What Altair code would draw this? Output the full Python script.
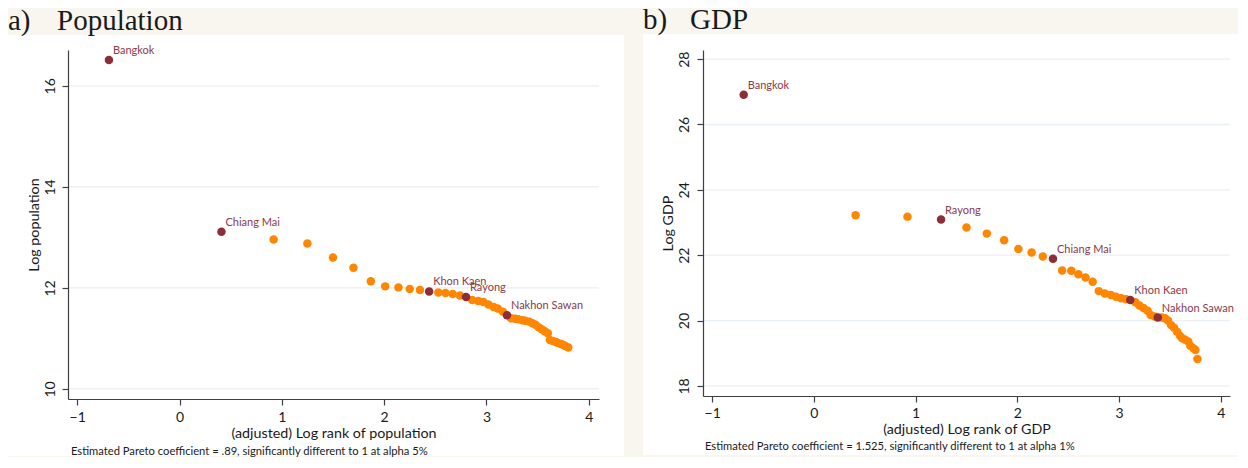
import altair as alt
import pandas as pd

# ---------------- data ----------------
# Panel a: population
pop_rank = [-0.69, 0.41, 0.92, 1.25, 1.50, 1.70, 1.87, 2.01, 2.14, 2.25,
            2.35, 2.44, 2.53, 2.60, 2.67, 2.74, 2.80, 2.86, 2.92, 2.97,
            3.02, 3.07, 3.11, 3.16, 3.20, 3.24, 3.28, 3.31, 3.35, 3.38,
            3.42, 3.45, 3.48, 3.51, 3.54, 3.57, 3.60, 3.62, 3.65, 3.68,
            3.70, 3.73, 3.75, 3.77, 3.80]
pop_log = [16.51, 13.11, 12.96, 12.88, 12.60, 12.40, 12.13, 12.03, 12.01, 11.98,
           11.96, 11.93, 11.91, 11.90, 11.88, 11.85, 11.82, 11.76, 11.74, 11.72,
           11.67, 11.62, 11.59, 11.53, 11.46, 11.40, 11.39, 11.38, 11.36, 11.35,
           11.33, 11.30, 11.27, 11.22, 11.18, 11.14, 11.10, 10.97, 10.95, 10.93,
           10.91, 10.89, 10.87, 10.85, 10.82]
pop_label_pos = [1, 2, 12, 17, 25]
pop_label_name = ["Bangkok", "Chiang Mai", "Khon Kaen", "Rayong", "Nakhon Sawan"]

# Panel b: GDP
gdp_rank = [-0.69, 0.41, 0.92, 1.25, 1.50, 1.70, 1.87, 2.01, 2.14, 2.25,
            2.35, 2.44, 2.53, 2.60, 2.67, 2.74, 2.80, 2.86, 2.92, 2.97,
            3.02, 3.07, 3.11, 3.16, 3.20, 3.24, 3.28, 3.31, 3.35, 3.38,
            3.42, 3.45, 3.48, 3.51, 3.54, 3.57, 3.60, 3.62, 3.65, 3.68,
            3.70, 3.73, 3.75, 3.77]
gdp_log = [26.91, 23.22, 23.18, 23.09, 22.85, 22.66, 22.46, 22.19, 22.08, 21.96,
           21.89, 21.53, 21.52, 21.42, 21.32, 21.19, 20.90, 20.83, 20.78, 20.73,
           20.68, 20.65, 20.63, 20.56, 20.46, 20.38, 20.30, 20.17, 20.12, 20.09,
           20.09, 20.07, 20.00, 19.86, 19.78, 19.66, 19.53, 19.46, 19.41, 19.36,
           19.23, 19.15, 19.10, 18.82]
gdp_label_pos = [1, 4, 11, 23, 30]
gdp_label_name = ["Bangkok", "Rayong", "Chiang Mai", "Khon Kaen", "Nakhon Sawan"]

x_ticks = [-1, 0, 1, 2, 3, 4]
pop_y_ticks = [10, 12, 14, 16]
gdp_y_ticks = [18, 20, 22, 24, 26, 28]

# ---------------- styling ----------------
CREAM = "#f8f6ef"
GRID = "#e9f0f3"
AX = "#3f3f3f"
INK = "#1a1a1a"
ORANGE = "#ff8600"
MAROON = "#8c2d37"
LABC = "#8a3a48"
SANS = "Lato"
SERIF = "Liberation Serif"


def make_df(xs, ys, pos, names):
    lab = [""] * len(xs)
    for p, n in zip(pos, names):
        lab[p - 1] = n
    return pd.DataFrame({"x": xs, "y": ys, "name": lab, "hl": [n != "" for n in lab]})


def panel(df, xdom, ydom, yticks, w, h, xtitle, ytitle, tag, title, note,
          ytitle_x, ylab_pad, xlab_pad, xtitle_y,
          cream_left, box_left, box_right, top, box_top, bottom,
          title_y, title_x, note_y, note_x):
    X = alt.X("x:Q", scale=alt.Scale(domain=xdom, nice=False, zero=False),
              axis=alt.Axis(values=x_ticks, format="d", title=xtitle, grid=False,
                            tickSize=6, labelPadding=xlab_pad, labelFlush=False,
                            labelOverlap=False, titleX=w / 2, titleY=xtitle_y,
                            titleAlign="center", titleBaseline="middle", zindex=1))
    Y = alt.Y("y:Q", scale=alt.Scale(domain=ydom, nice=False, zero=False),
              axis=alt.Axis(values=yticks, format="d", title=ytitle, grid=False,
                            tickSize=6, labelPadding=ylab_pad, labelAngle=270,
                            labelAlign="center", labelBaseline="bottom",
                            labelFlush=False, labelOverlap=False,
                            titleX=ytitle_x, titleY=h / 2, titleAngle=270,
                            titleAlign="center", titleBaseline="middle", zindex=1))
    one = pd.DataFrame({"k": [0]})
    cream = alt.Chart(one).mark_rect(color=CREAM).encode(
        x=alt.value(cream_left), x2=alt.value(box_right),
        y=alt.value(top), y2=alt.value(bottom))
    white = alt.Chart(one).mark_rect(color="white").encode(
        x=alt.value(box_left), x2=alt.value(box_right),
        y=alt.value(box_top), y2=alt.value(bottom))
    grid = alt.Chart(pd.DataFrame({"y": yticks})).mark_rule(
        color=GRID, strokeWidth=1.3).encode(y=Y)
    pts = alt.Chart(df).transform_filter("!datum.hl").mark_circle(
        size=72, opacity=1, color=ORANGE).encode(x=X, y=Y)
    hl = alt.Chart(df).transform_filter("datum.hl").mark_circle(
        size=72, opacity=1, color=MAROON).encode(x=X, y=Y)
    lab = alt.Chart(df).transform_filter("datum.hl").mark_text(
        align="left", baseline="middle", dx=4, dy=-9, font=SANS, fontSize=11,
        color=LABC).encode(x=X, y=Y, text="name:N")
    tag_t = alt.Chart(pd.DataFrame({"t": [tag]})).mark_text(
        align="left", baseline="alphabetic", font=SERIF, fontSize=29, color=INK
    ).encode(x=alt.value(box_left), y=alt.value(title_y), text="t:N")
    title_t = alt.Chart(pd.DataFrame({"t": [title]})).mark_text(
        align="left", baseline="alphabetic", font=SERIF, fontSize=29, color=INK
    ).encode(x=alt.value(title_x), y=alt.value(title_y), text="t:N")
    note_t = alt.Chart(pd.DataFrame({"t": [note]})).mark_text(
        align="left", baseline="middle", font=SANS, fontSize=11.2, color=INK
    ).encode(x=alt.value(note_x), y=alt.value(note_y), text="t:N")
    return alt.layer(cream, white, grid, pts, hl, lab, tag_t, title_t, note_t).properties(
        width=w, height=h)


pop_df = make_df(pop_rank, pop_log, pop_label_pos, pop_label_name)
gdp_df = make_df(gdp_rank, gdp_log, gdp_label_pos, gdp_label_name)

panel_a = panel(pop_df, [-1.09, 4.10], [9.80, 16.71], pop_y_ticks, 531, 349,
                "(adjusted) Log rank of population", "Log population",
                "a)", "Population",
                "Estimated Pareto coefficient = .89, significantly different to 1 at alpha 5%",
                ytitle_x=-34, ylab_pad=5, xlab_pad=5, xtitle_y=34,
                cream_left=-60, box_left=-60, box_right=556, top=-46, box_top=-15,
                bottom=406, title_y=-20.5, title_x=-11, note_y=401.5, note_x=3)

panel_b = panel(gdp_df, [-1.09, 4.09], [17.69, 28.28], gdp_y_ticks, 527, 346,
                "(adjusted) Log rank of GDP", "Log GDP",
                "b)", "GDP",
                "Estimated Pareto coefficient = 1.525, significantly different to 1 at alpha 1%",
                ytitle_x=-35, ylab_pad=6, xlab_pad=4, xtitle_y=33,
                cream_left=-79, box_left=-60, box_right=535, top=-47, box_top=-16,
                bottom=405, title_y=-21.5, title_x=-13, note_y=396.5, note_x=2)

chart = alt.hconcat(panel_a, panel_b, spacing=0).properties(
    padding={"left": 0, "top": -5, "right": 0, "bottom": 0},
    background=CREAM,
).configure_view(strokeWidth=0).configure_axis(
    domainColor=AX, tickColor=AX, domainWidth=1.2, tickWidth=1.2,
    labelFont=SANS, labelFontSize=14, labelColor=INK,
    titleFont=SANS, titleFontSize=14.3, titleFontWeight="normal", titleColor=INK,
)

chart.save("out.html", embed_options={"renderer": "svg", "actions": False})
